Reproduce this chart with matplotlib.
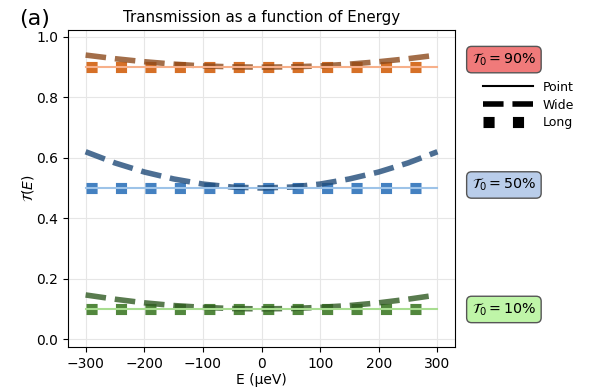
import matplotlib
matplotlib.use("Agg")
import matplotlib.pyplot as plt
from matplotlib.lines import Line2D

# Data
E = [-300, -250, -200, -150, -100, -50, 0, 50, 100, 150, 200, 250, 300]
T0_labels = ["90%", "50%", "10%"]
point_90 = [0.9] * 13
point_50 = [0.5] * 13
point_10 = [0.1] * 13
long_90 = [0.9] * 13
long_50 = [0.5] * 13
long_10 = [0.1] * 13
wide_90 = [0.940, 0.928, 0.918, 0.910, 0.904, 0.901, 0.900, 0.901, 0.904, 0.910, 0.918, 0.928, 0.940]
wide_50 = [0.620, 0.583, 0.553, 0.530, 0.513, 0.503, 0.500, 0.503, 0.513, 0.530, 0.553, 0.583, 0.620]
wide_10 = [0.146, 0.132, 0.120, 0.111, 0.105, 0.101, 0.100, 0.101, 0.105, 0.111, 0.120, 0.132, 0.146]

series = [
    (point_90, wide_90, long_90, "#f7b08a", "#8c4a1c", "#d2600f", "#f07a7a"),
    (point_50, wide_50, long_50, "#9dc3e8", "#1f4a78", "#2f73bb", "#b9cdea"),
    (point_10, wide_10, long_10, "#a8dd90", "#2f5a22", "#3f7a28", "#bff5a8"),
]

fig = plt.figure(figsize=(5.89, 3.92), dpi=100)
ax = fig.add_axes([0.1155, 0.115, 0.657, 0.8085])

for pt, wd, lg, cp, cw, cl, cb in series:
    ax.plot(E, lg, linestyle=":", linewidth=8, color=cl, alpha=0.9, dash_capstyle="butt", zorder=2)
    ax.plot(E, wd, linestyle="--", linewidth=4, color=cw, alpha=0.8, dash_capstyle="butt", zorder=3)
    ax.plot(E, pt, linestyle="-", linewidth=1.5, color=cp, zorder=4)

ax.set_xlim(-330, 330)
ax.set_ylim(-0.026, 1.023)
ax.set_xticks([-300, -200, -100, 0, 100, 200, 300])
ax.set_yticks([0.0, 0.2, 0.4, 0.6, 0.8, 1.0])
ax.grid(True, color="#e6e6e6", linewidth=0.8)
ax.set_axisbelow(True)
ax.set_xlabel("E (μeV)", labelpad=1.5)
ax.set_ylabel(r"$\mathcal{T}(E)$", labelpad=0.5)
ax.set_title("Transmission as a function of Energy", fontsize=10.8)

# boxes
box_y = [0.925, 0.51, 0.098]
for lab, yv, s in zip(T0_labels, box_y, series):
    cb = s[6]
    ax.text(1.043, yv, r"$\mathcal{T}_0 = " + lab.replace("%", r"\%") + "$",
            transform=ax.get_yaxis_transform(),
            ha="left", va="center", fontsize=10.3,
            bbox=dict(boxstyle="round,pad=0.35", facecolor=cb, edgecolor="#555555", linewidth=1))

handles = [
    Line2D([], [], color="black", linestyle="-", linewidth=1.5),
    Line2D([], [], color="black", linestyle="--", linewidth=4, dash_capstyle="butt"),
    Line2D([], [], color="black", linestyle=":", linewidth=8, dash_capstyle="butt"),
]
ax.legend(handles, ["Point", "Wide", "Long"], loc="upper left", bbox_to_anchor=(1.043, 0.875),
          frameon=False, fontsize=9, handlelength=4.0, labelspacing=0.38)

fig.text(0.033, 0.935, "(a)", fontsize=16)

fig.savefig("out.png", dpi=100)
